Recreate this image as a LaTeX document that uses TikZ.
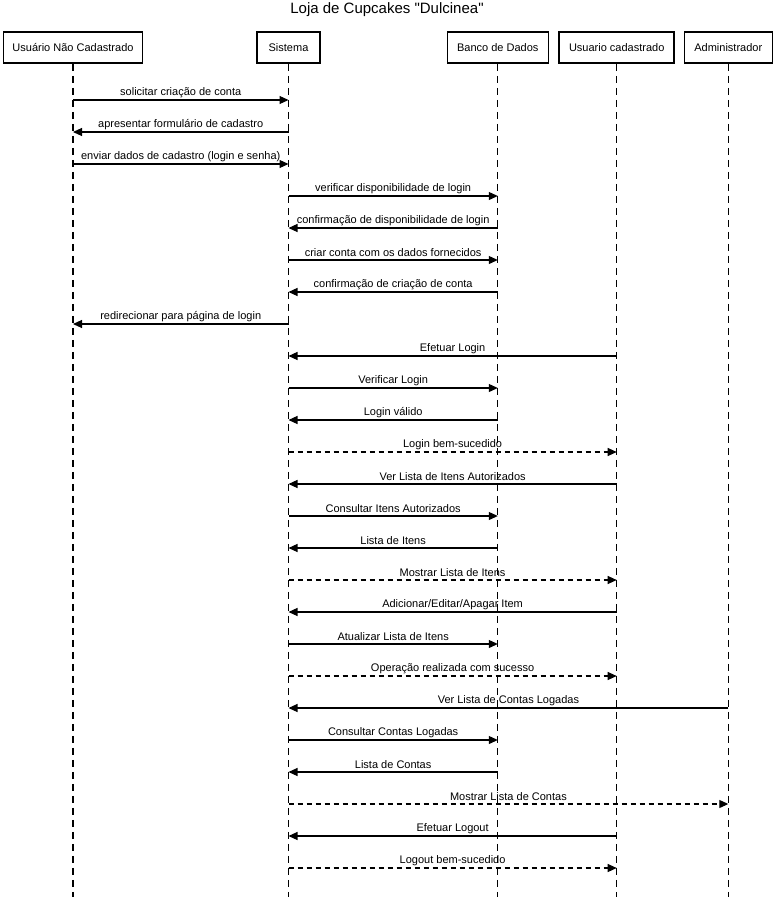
\documentclass[tikz,border=0pt]{standalone}
\usepackage{fontspec}
\setmainfont{Liberation Sans}[Ligatures=TeXOff]
\usetikzlibrary{arrows.meta}
\begin{document}
\begin{tikzpicture}[x=1pt,y=-1pt,
  actor/.style={draw,line width=1.6pt,minimum height=31pt,inner sep=0pt,font=\fontsize{11}{13}\selectfont},
  lifeline/.style={line width=1.2pt,dash pattern=on 7pt off 5pt},
  call/.style={line width=1.1pt,-{Triangle[length=9pt,width=8pt]}},
  reply/.style={call,dash pattern=on 5pt off 4pt},
  lbl/.style={font=\fontsize{11}{13}\selectfont,inner sep=0pt,anchor=center}]
\useasboundingbox (0,0) rectangle (775,897);
\node[font=\fontsize{15}{18}\selectfont] (title) at (387,10) {Loja de Cupcakes "Dulcinea"};
\node[actor,minimum width=139pt] (A) at (73,47.5) {Usuário Não Cadastrado};
\node[actor,minimum width=63pt] (S) at (288.5,47.5) {Sistema};
\node[actor,minimum width=101pt] (B) at (497.8,47.5) {Banco de Dados};
\node[actor,minimum width=115pt] (U) at (616.7,47.5) {Usuario cadastrado};
\node[actor,minimum width=88pt] (D) at (728.3,47.5) {Administrador};
\foreach \n in {A,S,B,U,D}{
  \coordinate (\n end) at (\n.south |- 0,897);
  \draw[lifeline] (\n.south) -- (\n end);
}
\foreach \f/\t/\s/\txt [count=\i] in {
  A/S/call/{solicitar criação de conta},
  S/A/call/{apresentar formulário de cadastro},
  A/S/call/{enviar dados de cadastro (login e senha)},
  S/B/call/{verificar disponibilidade de login},
  B/S/call/{confirmação de disponibilidade de login},
  S/B/call/{criar conta com os dados fornecidos},
  B/S/call/{confirmação de criação de conta},
  S/A/call/{redirecionar para página de login},
  U/S/call/{Efetuar Login},
  S/B/call/{Verificar Login},
  B/S/call/{Login válido},
  S/U/reply/{Login bem-sucedido},
  U/S/call/{Ver Lista de Itens Autorizados},
  S/B/call/{Consultar Itens Autorizados},
  B/S/call/{Lista de Itens},
  S/U/reply/{Mostrar Lista de Itens},
  U/S/call/{Adicionar/Editar/Apagar Item},
  S/B/call/{Atualizar Lista de Itens},
  S/U/reply/{Operação realizada com sucesso},
  D/S/call/{Ver Lista de Contas Logadas},
  S/B/call/{Consultar Contas Logadas},
  B/S/call/{Lista de Contas},
  S/D/reply/{Mostrar Lista de Contas},
  U/S/call/{Efetuar Logout},
  S/U/reply/{Logout bem-sucedido}}{
  \pgfmathsetmacro{\yy}{100+32*(\i-1)}
  \coordinate (m\i a) at (\f.south |- 0,\yy);
  \coordinate (m\i b) at (\t.south |- 0,\yy);
  \draw[\s] (m\i a) -- (m\i b) node[lbl,midway,yshift=7.5pt] (l\i) {\txt};
}
\end{tikzpicture}
\end{document}
